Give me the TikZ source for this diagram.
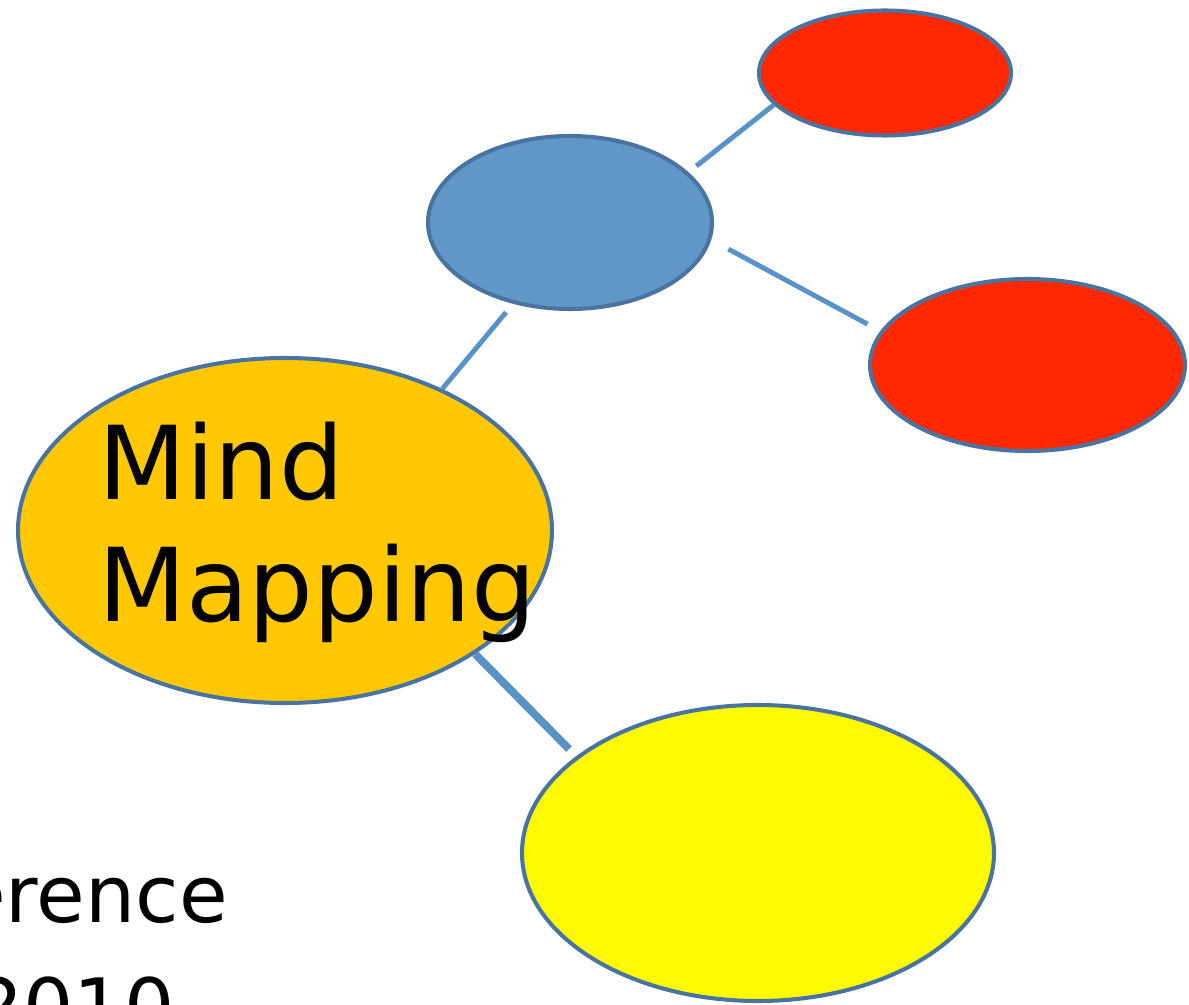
\documentclass[tikz,border=0pt]{standalone}
\usepackage{fontspec}
\setmainfont{DejaVu Sans}
\usepackage{tikz}
\usetikzlibrary{shapes}
\usetikzlibrary{calc}

\definecolor{rimblue}{RGB}{74,116,160}
\definecolor{linkblue}{RGB}{88,146,199}
\definecolor{mainorange}{RGB}{255,200,0}
\definecolor{topicblue}{RGB}{97,150,201}
\definecolor{leafred}{RGB}{255,40,0}
\definecolor{leafyellow}{RGB}{255,250,0}

\begin{document}
\begin{tikzpicture}[
    bubble/.style={ellipse, draw=rimblue, line width=2.3pt, inner sep=0pt},
    link/.style={draw=linkblue, line width=2.8pt},
    bigtext/.style={inner sep=0pt, font=\fontsize{58}{70}\selectfont},
    sidetext/.style={inner sep=0pt, font=\fontsize{45}{54}\selectfont}]
      \useasboundingbox (0, 0) rectangle (23.78, -20.1);

      \node[bubble, fill=mainorange, minimum width=10.68cm, minimum height=6.9cm] (main) at (5.70, -10.61) {};
      \node[bubble, fill=topicblue, minimum width=5.68cm, minimum height=3.46cm] (topic) at (11.40, -4.45) {};
      \node[bubble, fill=leafred, minimum width=5.04cm, minimum height=2.5cm] (leafa) at (17.70, -1.46) {};
      \node[bubble, fill=leafred, minimum width=6.3cm, minimum height=3.44cm] (leafb) at (20.55, -7.30) {};
      \node[bubble, fill=leafyellow, minimum width=9.44cm, minimum height=5.92cm] (leafc) at (15.16, -17.06) {};

      \draw[link, shorten >=0.22cm] (main.42) -- (topic.235);
      \draw[link, shorten <=0.2cm] (topic.23) -- (leafa.196);
      \draw[link, shorten <=0.39cm, shorten >=0.29cm] (topic.353.7) -- (leafb.167.3);
      \draw[link, line width=4.5pt, shorten >=0.2cm] (main.327) -- (leafc.152);

      \node[bigtext, anchor=base west] (mind) at (1.96, -10.0) {Mind};
      \node[bigtext, anchor=base west] (mapping) at (1.96, -12.44) {Mapping};

      \node[sidetext, anchor=base east] (conf) at (4.56, -18.44) {erence};
      \node[sidetext, anchor=base east] (year) at (3.5, -20.7) {2010};
    \end{tikzpicture}
\end{document}
